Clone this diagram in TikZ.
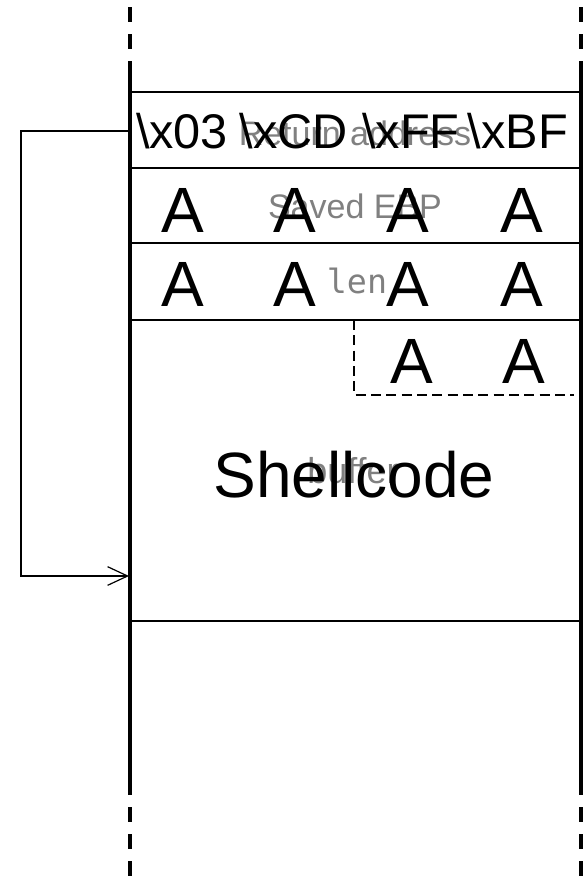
\documentclass[tikz,border=0pt]{standalone}
\usepackage{fontspec}
\setmainfont{Liberation Sans}
\setmonofont{DejaVu Sans Mono}
\usetikzlibrary{arrows.meta}
\definecolor{labelgray}{gray}{0.5}
\tikzset{
  wall/.style={line width=2.4pt},
  wallend/.style={wall, dash pattern=on 11.25pt off 9pt},
  slot/.style={line width=1.6pt},
  field/.style={text=labelgray, inner sep=0pt, anchor=base, font=\fontsize{25.5}{25.5}\selectfont},
  byte/.style={inner sep=0pt, anchor=base, font=\fontsize{48}{48}\selectfont},
  hexbyte/.style={inner sep=0pt, anchor=base, font=\fontsize{36.5}{36.5}\selectfont},
}
\begin{document}
\begin{tikzpicture}[x=0.75pt, y=-0.75pt]
    \useasboundingbox (0, 0) rectangle (586, 876);
    % Stack walls, running off at both ends
    \foreach \wx in {130, 581} {
        \draw[wallend] (\wx, 7) -- (\wx, 63);
        \draw[wall] (\wx, 63) -- (\wx, 795);
        \draw[wallend] (\wx, 807) -- (\wx, 876);
    }
    % Frame slots
    \foreach \sy in {92, 168, 243, 320, 621}
        \draw[slot] (130, \sy) -- (581, \sy);
    % Field names underneath
    \node[field] (retlbl) at (355, 145) {Return address};
    \node[field] (ebplbl) at (355, 218) {Saved EBP};
    \node[field, font=\ttfamily\fontsize{25}{25}\selectfont] (lenlbl) at (357, 293) {len};
    \node[field, font=\fontsize{27}{27}\selectfont] (buflbl) at (353, 483) {buffer};
    % Overwritten contents
    \node[hexbyte] (ret0) at (182, 148) {\textbackslash x03};
    \node[hexbyte] (ret1) at (294, 148) {\textbackslash xCD};
    \node[hexbyte] (ret2) at (411, 148) {\textbackslash xFF};
    \node[hexbyte] (ret3) at (518, 148) {\textbackslash xBF};
    \foreach \i/\ax in {0/183, 1/295, 2/408, 3/522} {
        \node[byte] (ebp\i) at (\ax, 232) {A};
        \node[byte] (len\i) at (\ax, 306) {A};
    }
    \node[byte] (pad0) at (412, 383) {A};
    \node[byte] (pad1) at (524, 383) {A};
    \draw[line width=1.1pt, dash pattern=on 7.5pt off 4pt] (354, 320) -- (354, 395) -- (574, 395);
    \node[byte] (shell) at (354, 497) {Shellcode};
    % Return address points back into the buffer
    \coordinate (retedge) at (130, 131);
    \coordinate (bufedge) at (129, 576);
    \draw[line width=0.9pt, -{Straight Barb[length=15pt, width=14pt]}] (retedge) -- (21, 131) |- (bufedge);
\end{tikzpicture}
\end{document}
